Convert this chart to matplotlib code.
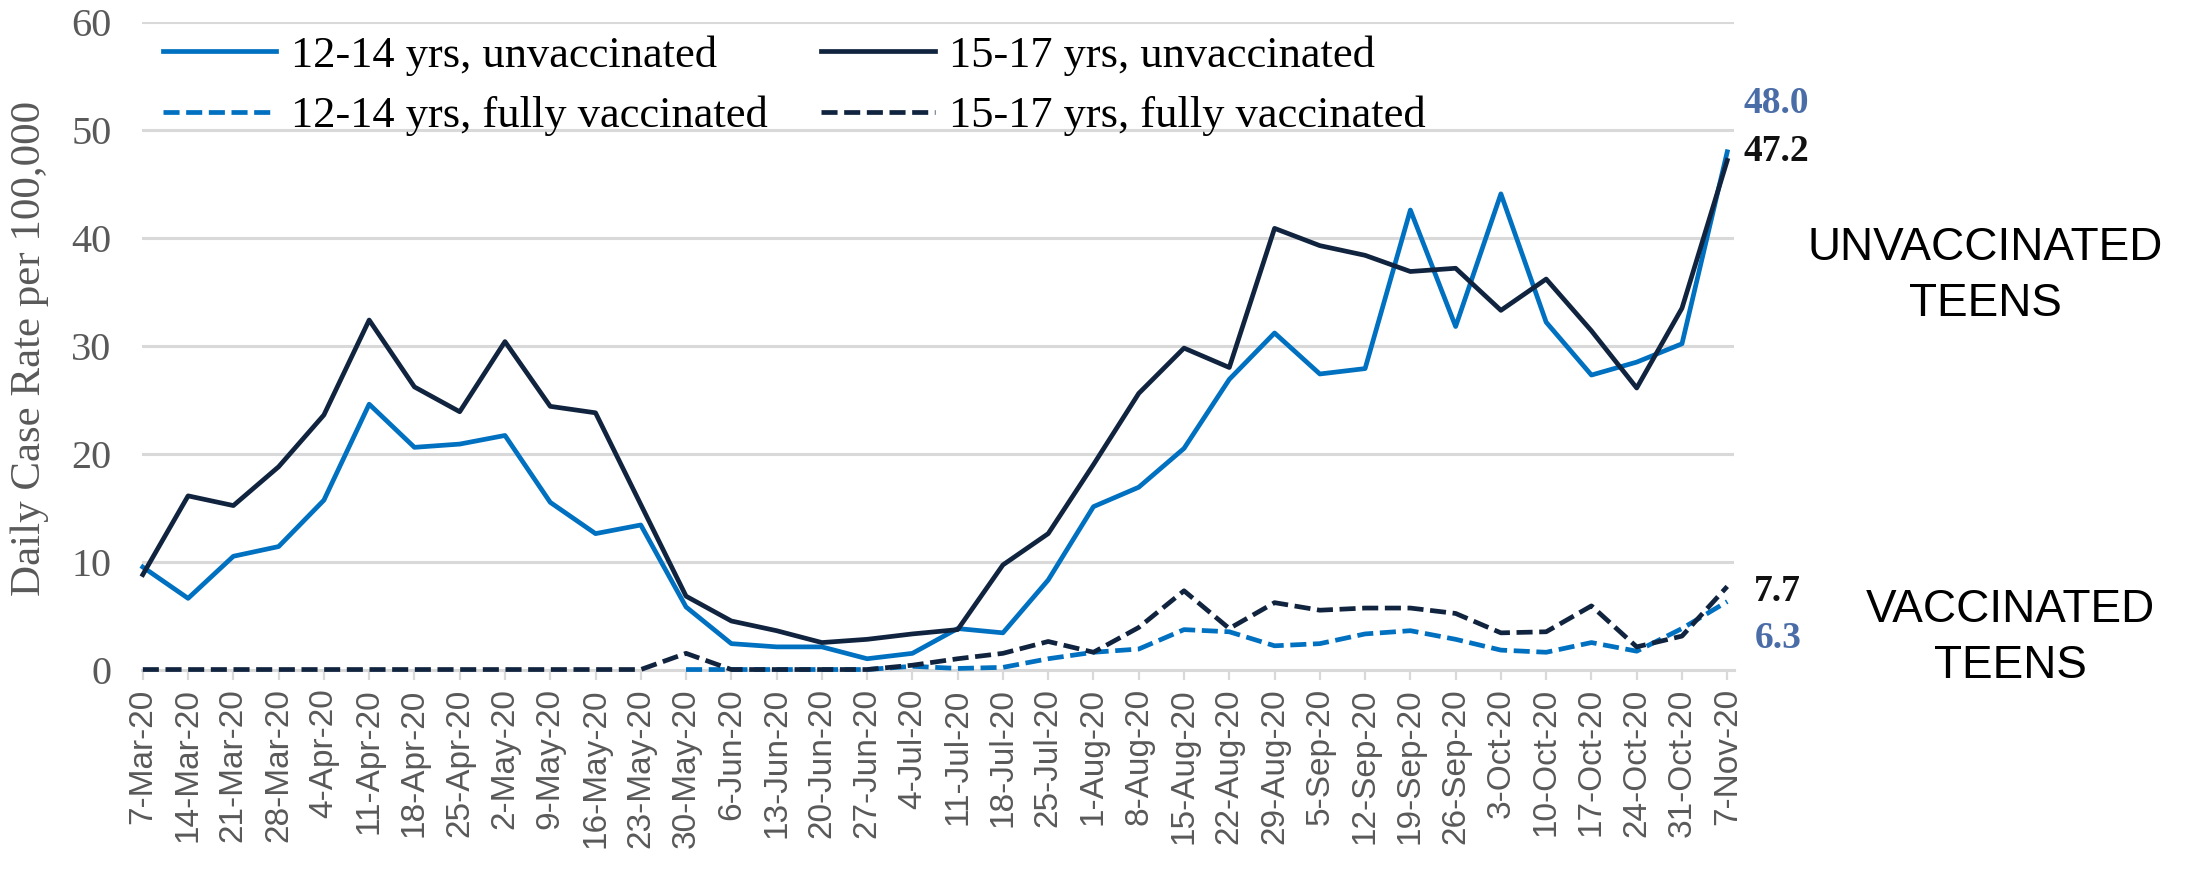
import matplotlib
matplotlib.use("Agg")
import matplotlib.pyplot as plt
import numpy as np

# weekly dates, 7-Mar-20 .. 7-Nov-20
week_labels = [
    "7-Mar-20", "14-Mar-20", "21-Mar-20", "28-Mar-20", "4-Apr-20", "11-Apr-20",
    "18-Apr-20", "25-Apr-20", "2-May-20", "9-May-20", "16-May-20", "23-May-20",
    "30-May-20", "6-Jun-20", "13-Jun-20", "20-Jun-20", "27-Jun-20", "4-Jul-20",
    "11-Jul-20", "18-Jul-20", "25-Jul-20", "1-Aug-20", "8-Aug-20", "15-Aug-20",
    "22-Aug-20", "29-Aug-20", "5-Sep-20", "12-Sep-20", "19-Sep-20", "26-Sep-20",
    "3-Oct-20", "10-Oct-20", "17-Oct-20", "24-Oct-20", "31-Oct-20", "7-Nov-20",
]

unvax_12_14 = [9.5, 6.6, 10.5, 11.4, 15.7, 24.6, 20.6, 20.9, 21.7, 15.5, 12.6, 13.4,
               5.8, 2.4, 2.1, 2.1, 1.0, 1.5, 3.8, 3.4, 8.3, 15.1, 16.9, 20.5,
               26.9, 31.2, 27.4, 27.9, 42.6, 31.8, 44.1, 32.2, 27.3, 28.5, 30.2, 48.0]

unvax_15_17 = [8.8, 16.1, 15.2, 18.8, 23.6, 32.4, 26.2, 23.9, 30.4, 24.4, 23.8, 15.3,
               6.8, 4.5, 3.6, 2.5, 2.8, 3.3, 3.7, 9.7, 12.6, 19.0, 25.6, 29.8,
               28.0, 40.9, 39.3, 38.4, 36.9, 37.2, 33.3, 36.2, 31.4, 26.1, 33.5, 47.2]

# 12-14 vaccinated series only starts at 30-May
vax_12_14 = [np.nan] * 12 + [0, 0, 0, 0, 0, 0.3, 0.1, 0.2, 1.0, 1.6, 1.9, 3.7,
                             3.5, 2.2, 2.4, 3.3, 3.6, 2.8, 1.8, 1.6, 2.5, 1.7, 3.8, 6.3]

vax_15_17 = [0, 0, 0, 0, 0, 0, 0, 0, 0, 0, 0, 0,
             1.5, 0, 0, 0, 0, 0.4, 1.0, 1.5, 2.6, 1.6, 3.9, 7.3,
             3.8, 6.2, 5.5, 5.7, 5.7, 5.2, 3.4, 3.5, 5.9, 2.1, 3.1, 7.7]

blue = "#0070C0"
navy = "#11243F"
label_blue = "#4A6DA7"
grey_txt = "#595959"
grid_col = "#D9D9D9"

fig = plt.figure(figsize=(21.9, 8.76), dpi=100)
ax = fig.add_axes([0.0648, 0.2357, 0.727, 0.7388])

x = np.arange(len(week_labels))
lw = 3.4
style = dict(lw=lw, clip_on=False, zorder=3)
l1, = ax.plot(x, unvax_12_14, color=blue, label="12-14 yrs, unvaccinated", **style)
l2, = ax.plot(x, unvax_15_17, color=navy, label="15-17 yrs, unvaccinated", **style)
l3, = ax.plot(x, vax_12_14, color=blue, dashes=(3.4, 1.4), label="12-14 yrs, fully vaccinated", **style)
l4, = ax.plot(x, vax_15_17, color=navy, dashes=(3.4, 1.4), label="15-17 yrs, fully vaccinated", **style)

ax.set_xlim(-0.02, 35.15)
ax.set_ylim(0, 60)
ax.set_yticks(range(0, 61, 10))
ax.set_xticks(x)
ax.set_xticklabels(week_labels, rotation=90, family="Liberation Sans", fontsize=24, color=grey_txt)
for t in ax.get_yticklabels():
    t.set_family("Liberation Serif")
    t.set_fontsize(29)
    t.set_color(grey_txt)

ax.grid(axis="y", color=grid_col, lw=2.2)
ax.set_axisbelow(True)
for s in ["top", "right", "left"]:
    ax.spines[s].set_visible(False)
ax.spines["bottom"].set_color(grid_col)
ax.spines["bottom"].set_linewidth(2.2)
ax.tick_params(axis="y", length=0, pad=22)
ax.tick_params(axis="x", length=7.5, width=1.6, color=grid_col, pad=6)

fig.text(30 / 2190, 1 - 348 / 876, "Daily Case Rate per 100,000", rotation=90,
         ha="center", va="center", family="Liberation Serif", fontsize=31, color=grey_txt)

# end-point value labels
ends = [(unvax_12_14[-1], label_blue, 16, 48),
        (unvax_15_17[-1], "#111111", 16, 9),
        (vax_15_17[-1], "#111111", 27, -5),
        (vax_12_14[-1], label_blue, 27, -37)]
for val, col, dx, dy in ends:
    ax.annotate(f"{val:.1f}", xy=(x[-1], val), xytext=(dx, dy), textcoords="offset pixels",
                ha="left", va="center", fontsize=27, fontweight="bold",
                family="Liberation Serif", color=col, annotation_clip=False)

fig.text(1985 / 2190, 1 - 276 / 876, "UNVACCINATED\nTEENS", ha="center", va="center",
         family="Liberation Sans", fontsize=33, color="black", linespacing=1.35)
fig.text(2010 / 2190, 1 - 638 / 876, "VACCINATED\nTEENS", ha="center", va="center",
         family="Liberation Sans", fontsize=33, color="black", linespacing=1.35)

leg = ax.legend(handles=[l1, l3, l2, l4], ncol=2, loc="center left",
                bbox_to_anchor=(163 / 2190, 1 - 86 / 876),
                bbox_transform=fig.transFigure, frameon=False, borderpad=0, borderaxespad=0,
                prop={"family": "Liberation Serif", "size": 32},
                handlelength=2.55, handletextpad=0.33, columnspacing=1.2, labelspacing=0.45)
for t in leg.get_texts():
    t.set_color("black")

fig.savefig("out.png", dpi=100)
